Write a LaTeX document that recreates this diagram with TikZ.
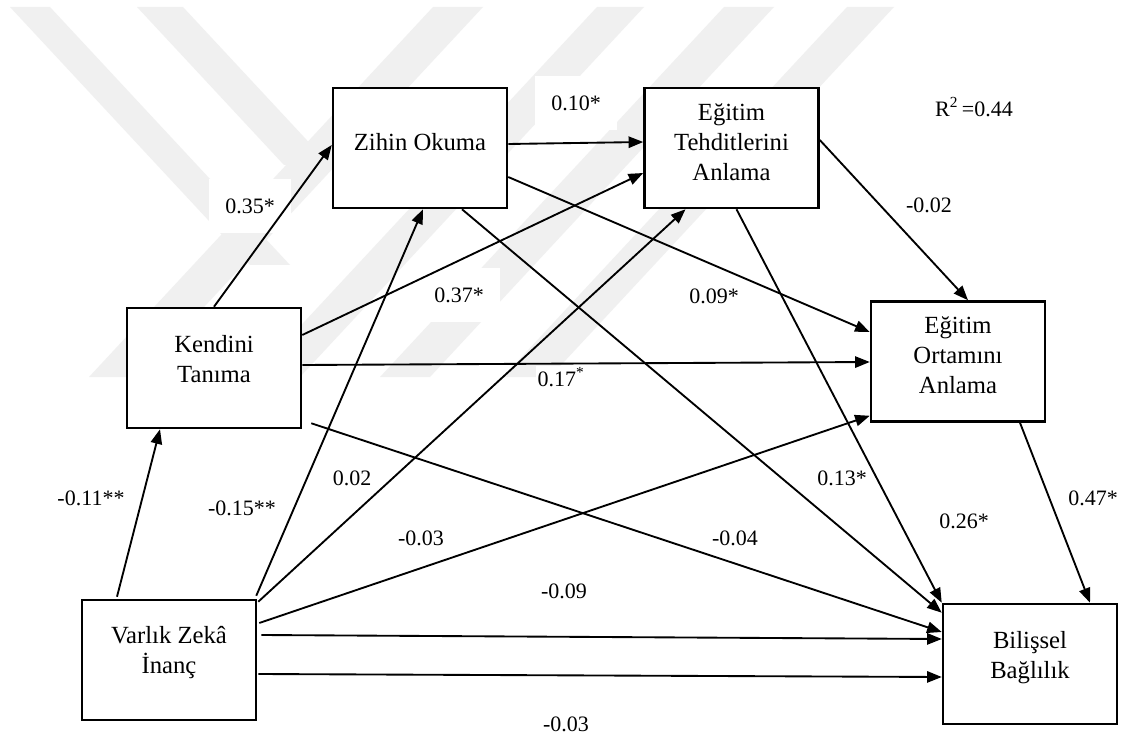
\documentclass[tikz,border=0pt]{standalone}
\usepackage{fontspec}
\setmainfont{Liberation Serif}
\usetikzlibrary{arrows.meta,calc}
\definecolor{wmark}{RGB}{240,240,240}
\begin{document}
\begin{tikzpicture}[x=0.75pt,y=-0.75pt,
  box/.style={draw=black, line width=1.9pt, fill=white,
    minimum width=130.5pt, minimum height=90pt, inner sep=0pt},
  boxtext/.style={anchor=north, inner sep=0pt, align=center,
    font=\fontsize{18.5}{22.5}\selectfont},
  coef/.style={inner sep=1pt, fill=white, font=\fontsize{16.5}{19}\selectfont},
  coefbg/.style={coef, minimum width=62pt, minimum height=40pt},
  path/.style={line width=1.4pt, -{Triangle[length=11pt,width=8.5pt]}}
]
\useasboundingbox (0,0) rectangle (1128,745);
\fill[white] (0,0) rectangle (1128,745);

% faint background bands
\begin{scope}[wmark]
  \fill (10,7) -- (50,7) -- (290,265) -- (250,265) -- cycle;
  \fill (137,7) -- (183,7) -- (330,165) -- (284,165) -- cycle;
  \fill (433,7) -- (483,7) -- (139,377) -- (89,377) -- cycle;
  \fill (597,7) -- (644,7) -- (300,377) -- (253,377) -- cycle;
  \fill (724,7) -- (774,7) -- (430,377) -- (380,377) -- cycle;
  \fill (847,7) -- (894,7) -- (550,377) -- (503,377) -- cycle;
\end{scope}

% coefficients
\node[coefbg] (c-kz)  at (250,206) {0.35*};
\node[coefbg] (c-zt)  at (576,103) {0.10*};
\node[coefbg] (c-kt)  at (459,295) {0.37*};
\node[coefbg] (c-zo)  at (714,296) {0.09*};
\node[coef]   (c-r2)  at (974,107) {R\textsuperscript{2}\,=0.44};
\node[coef]   (c-to)  at (929,205) {-0.02};
\node[coef]   (c-ko)  at (561,377) {0.17\textsuperscript{*}};
\node[coef]   (c-vt)  at (352,478) {0.02};
\node[coef]   (c-vz)  at (242,508) {-0.15**};
\node[coef]   (c-vk)  at (91,498)  {-0.11**};
\node[coef]   (c-vo)  at (421,538) {-0.03};
\node[coef]   (c-kb)  at (735,538) {-0.04};
\node[coef]   (c-zb)  at (842,478) {0.13*};
\node[coef]   (c-tb)  at (964,521) {0.26*};
\node[coef]   (c-ob)  at (1093,498) {0.47*};
\node[coef]   (c-vb1) at (564,591) {-0.09};
\node[coef]   (c-vb2) at (566,724) {-0.03};

% constructs
\node[box] (zihin) at (420,148)   {};
\node[box] (tehd)  at (731.5,148) {};
\node[box] (ortam) at (958,361.5) {};
\node[box] (kend)  at (214,368)   {};
\node[box] (varl)  at (169,660)   {};
\node[box] (bilis) at (1030,664)  {};

\node[boxtext] (zihin-t) at (420,133)   {Zihin Okuma};
\node[boxtext] (tehd-t)  at (731.5,103) {Eğitim\\Tehditlerini\\Anlama};
\node[boxtext] (ortam-t) at (958,316)   {Eğitim\\Ortamını\\Anlama};
\node[boxtext] (kend-t)  at (214,335)   {Kendini\\Tanıma};
\node[boxtext] (varl-t)  at (169,626)   {Varlık Zekâ\\İnanç};
\node[boxtext] (bilis-t) at (1030,631)  {Bilişsel\\Bağlılık};

% paths
\draw[path] (kend.north) -- ($(zihin.west)+(0,-3)$);
\draw[path] ($(zihin.east)+(0,-4)$) -- ($(tehd.west)+(0,-6)$);
\draw[path] ($(zihin.east)+(0,29)$) -- ($(ortam.west)+(0,-29.5)$);
\draw[path] ($(zihin.south)+(42,0)$) -- ($(bilis.north west)+(0,10)$);
\draw[path] ($(tehd.east)+(0,-8)$) -- ($(ortam.north)+(10,0)$);
\draw[path] ($(tehd.south)+(5,0)$) -- (bilis.north west);
\draw[path] ($(kend.east)+(0,-33)$) -- ($(tehd.west)+(0,25)$);
\draw[path] ($(kend.east)+(0,-3)$) -- ($(ortam.west)+(0,0.5)$);
\draw[path] ($(kend.south east)+(9,-6)$) -- ($(bilis.west)+(0,-32)$);
\draw[path] ($(varl.north)+(-52,-2)$) -- ($(kend.south)+(-54,0)$);
\draw[path] ($(varl.north east)+(-1,-3)$) -- ($(zihin.south)+(3,0)$);
\draw[path] ($(varl.north east)+(1,3)$) -- ($(tehd.south)+(-46,0)$);
\draw[path] ($(varl.east)+(2,-37)$) -- ($(ortam.south west)+(0,-7)$);
\draw[path] ($(varl.east)+(4,-25)$) -- ($(bilis.west)+(0,-25)$);
\draw[path] ($(varl.east)+(1,14)$) -- ($(bilis.west)+(0,13)$);
\draw[path] ($(ortam.south)+(62,0)$) -- ($(bilis.north)+(60,0)$);
\end{tikzpicture}
\end{document}
